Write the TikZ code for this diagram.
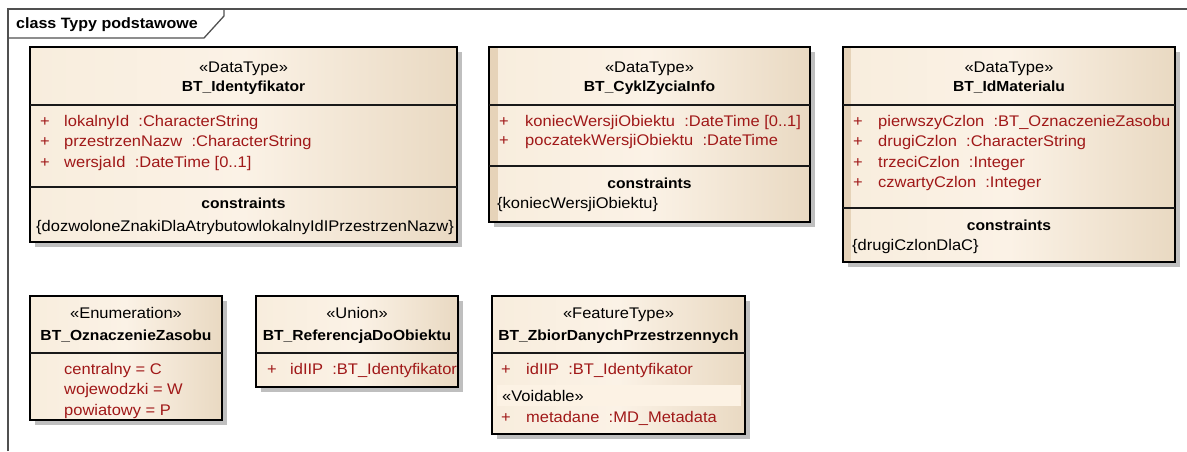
\documentclass[tikz,border=0pt]{standalone}
\usepackage{fontspec}
\setmainfont{Liberation Sans}[FakeStretch=1.07]
\usetikzlibrary{shadows}
\definecolor{cream}{HTML}{FBF2E6}
\definecolor{tanc}{HTML}{E9D9C2}
\definecolor{creamL}{HTML}{F8EDDD}
\definecolor{stripec}{HTML}{E6D3B9}
\definecolor{attred}{HTML}{A01818}
\definecolor{framegray}{HTML}{505050}
\definecolor{voidband}{HTML}{FCF2E4}
\newcommand\attsp{\hspace{0.6em}}
\begin{document}
\begin{tikzpicture}[x=1pt,y=-1pt,
 umlbox/.style={draw=black, line width=1.8pt, rectangle, inner sep=0pt, outer sep=0pt, anchor=north west,
   left color=creamL, right color=tanc, middle color=cream,
   drop shadow={shadow xshift=5pt,shadow yshift=-5pt,fill=black!25,opacity=1}},
 sepline/.style={draw=black!90, line width=1.5pt},
 txt/.style={inner sep=0pt, yshift=-3pt, font=\fontsize{15.4}{18}\selectfont},
 stereo/.style={txt, anchor=mid},
 cname/.style={txt, anchor=mid, font=\fontsize{14.6}{18}\selectfont\bfseries},
 attr/.style={txt, anchor=mid west, text=attred},
 plain/.style={txt, anchor=mid west},
 framel/.style={draw=framegray, line width=1.3pt},
]
\useasboundingbox (0,0) rectangle (1187,451);
% frame
\draw[framel] (8,451) -- (8,9) -- (1187,9);
\draw[framel] (8,38) -- (204,38) -- (224,16) -- (224,9);
\node[cname, anchor=mid west, font=\fontsize{15}{18}\selectfont\bfseries] (title) at (16,23) {class Typy podstawowe};

% Box 1
\node[umlbox, minimum width=427pt, minimum height=195pt] (b1) at (30,47) {};
\draw[sepline] (30,105) -- (457,105);
\draw[sepline] (30,187) -- (457,187);
\node[stereo] (b1s) at (243.5,67) {«DataType»};
\node[cname] (b1n) at (243.5,86) {BT\_Identyfikator};
\node[attr] (b1p1) at (40,121) {+};
\node[attr] (b1a1) at (64,121) {lokalnyId\attsp:CharacterString};
\node[attr] (b1p2) at (40,141) {+};
\node[attr] (b1a2) at (64,141) {przestrzenNazw\attsp:CharacterString};
\node[attr] (b1p3) at (40,162) {+};
\node[attr] (b1a3) at (64,162) {wersjaId\attsp:DateTime [0..1]};
\node[cname] (b1c) at (243.5,203) {constraints};
\node[plain] (b1k) at (36,226) {\{dozwoloneZnakiDlaAtrybutowlokalnyIdIPrzestrzenNazw\}};

% Box 2
\node[umlbox, minimum width=321pt, minimum height=175pt] (b2) at (489,47) {};
\fill[stripec] (490,48) rectangle (498,221);
\draw[sepline] (489,105) -- (810,105);
\draw[sepline] (489,166) -- (810,166);
\node[stereo] (b2s) at (649.5,67) {«DataType»};
\node[cname] (b2n) at (649.5,86) {BT\_CyklZyciaInfo};
\node[attr] (b2p1) at (499,121) {+};
\node[attr] (b2a1) at (525,121) {koniecWersjiObiektu\attsp:DateTime [0..1]};
\node[attr] (b2p2) at (499,140) {+};
\node[attr] (b2a2) at (525,140) {poczatekWersjiObiektu\attsp:DateTime};
\node[cname] (b2c) at (649.5,183) {constraints};
\node[plain] (b2k) at (497,203) {\{koniecWersjiObiektu\}};

% Box 3
\node[umlbox, minimum width=332pt, minimum height=215pt] (b3) at (843,47) {};
\fill[stripec] (844,48) rectangle (851,261);
\draw[sepline] (843,105) -- (1175,105);
\draw[sepline] (843,208) -- (1175,208);
\node[stereo] (b3s) at (1009,67) {«DataType»};
\node[cname] (b3n) at (1009,86) {BT\_IdMaterialu};
\node[attr] (b3p1) at (853,121) {+};
\node[attr] (b3a1) at (878,121) {pierwszyCzlon\attsp:BT\_OznaczenieZasobu};
\node[attr] (b3p2) at (853,141) {+};
\node[attr] (b3a2) at (878,141) {drugiCzlon\attsp:CharacterString};
\node[attr] (b3p3) at (853,162) {+};
\node[attr] (b3a3) at (878,162) {trzeciCzlon\attsp:Integer};
\node[attr] (b3p4) at (853,182) {+};
\node[attr] (b3a4) at (878,182) {czwartyCzlon\attsp:Integer};
\node[cname] (b3c) at (1009,225) {constraints};
\node[plain] (b3k) at (852,245) {\{drugiCzlonDlaC\}};

% Box 4
\node[umlbox, minimum width=192pt, minimum height=124pt] (b4) at (30,296) {};
\draw[sepline] (30,353) -- (222,353);
\node[stereo] (b4s) at (126,313) {«Enumeration»};
\node[cname] (b4n) at (126,335) {BT\_OznaczenieZasobu};
\node[attr] (b4l1) at (64,369) {centralny = C};
\node[attr] (b4l2) at (64,389) {wojewodzki = W};
\node[attr] (b4l3) at (64,410) {powiatowy = P};

% Box 5
\node[umlbox, minimum width=202pt, minimum height=91pt] (b5) at (256,296) {};
\draw[sepline] (256,353) -- (458,353);
\node[stereo] (b5s) at (357,313) {«Union»};
\node[cname] (b5n) at (357,335) {BT\_ReferencjaDoObiektu};
\begin{scope}
\clip (257,354) rectangle (457,386);
\node[attr] (b5p1) at (267,369) {+};
\node[attr] (b5a1) at (290,369) {idIIP\attsp:BT\_Identyfikator};
\end{scope}

% Box 6
\node[umlbox, minimum width=253pt, minimum height=138pt] (b6) at (492,296) {};
\draw[sepline] (492,353) -- (745,353);
\node[stereo] (b6s) at (618.5,313) {«FeatureType»};
\node[cname] (b6n) at (618.5,335) {BT\_ZbiorDanychPrzestrzennych};
\node[attr] (b6p1) at (501,369) {+};
\node[attr] (b6a1) at (526,369) {idIIP\attsp:BT\_Identyfikator};
\fill[voidband] (497,385) rectangle (741,406);
\node[plain] (b6v) at (502,396) {«Voidable»};
\node[attr] (b6p2) at (501,417) {+};
\node[attr] (b6a2) at (526,417) {metadane\attsp:MD\_Metadata};
\end{tikzpicture}
\end{document}
